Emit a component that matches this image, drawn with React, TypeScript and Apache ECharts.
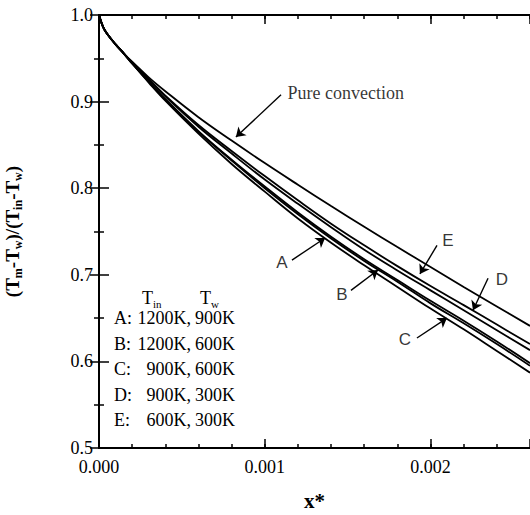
import React, { useEffect, useRef } from "react";
import * as echarts from "echarts";

// ---- data ----
const xValues = [0, 0.000025, 0.00005, 0.0001, 0.00015, 0.0002, 0.0003, 0.0004, 0.0006, 0.0008, 0.001, 0.0012, 0.0014, 0.0016, 0.0018, 0.002, 0.0022, 0.0024, 0.0026];
const pureConvection = [1.0, 0.986, 0.978, 0.966, 0.9555, 0.946, 0.928, 0.912, 0.882, 0.855, 0.829, 0.804, 0.7795, 0.7555, 0.732, 0.709, 0.686, 0.6635, 0.641];
const caseE = [1.0, 0.986, 0.978, 0.966, 0.9555, 0.945, 0.926, 0.907, 0.873, 0.843, 0.814, 0.786, 0.759, 0.734, 0.71, 0.687, 0.665, 0.6425, 0.62];
const caseD = [1.0, 0.986, 0.978, 0.966, 0.9555, 0.945, 0.925, 0.906, 0.871, 0.84, 0.81, 0.782, 0.755, 0.729, 0.705, 0.682, 0.659, 0.636, 0.613];
const caseA = [1.0, 0.986, 0.978, 0.966, 0.9555, 0.944, 0.923, 0.903, 0.866, 0.833, 0.802, 0.772, 0.744, 0.718, 0.694, 0.67, 0.647, 0.623, 0.598];
const caseB = [1.0, 0.986, 0.978, 0.966, 0.9555, 0.944, 0.923, 0.902, 0.865, 0.832, 0.8, 0.77, 0.742, 0.716, 0.692, 0.667, 0.644, 0.62, 0.595];
const caseC = [1.0, 0.986, 0.978, 0.966, 0.9555, 0.944, 0.922, 0.901, 0.863, 0.828, 0.796, 0.765, 0.737, 0.711, 0.686, 0.661, 0.637, 0.612, 0.587];

const xTickLabels = ["0.000", "0.001", "0.002"];
const yTickLabels = ["0.5", "0.6", "0.7", "0.8", "0.9", "1.0"];

const annotationNames = ["Pure convection", "E", "D", "C", "B", "A"];
const annotationTextAt = [
  [0.001134, 0.91],
  [0.002105, 0.74],
  [0.002431, 0.694],
  [0.001846, 0.625],
  [0.001466, 0.677],
  [0.001104, 0.714],
];
const arrowStarts = [
  [0.001098, 0.908],
  [0.002039, 0.734],
  [0.002347, 0.696],
  [0.001918, 0.627],
  [0.00152, 0.682],
  [0.001164, 0.717],
];
const arrowTips = [
  [0.000826, 0.859],
  [0.001936, 0.701],
  [0.002256, 0.659],
  [0.002099, 0.65],
  [0.001683, 0.7055],
  [0.001364, 0.7425],
];

const legendRows = [
  ["A:", "1200K,", "900K"],
  ["B:", "1200K,", "600K"],
  ["C:", "900K,", "600K"],
  ["D:", "900K,", "300K"],
  ["E:", "600K,", "300K"],
];

const SERIF = "Liberation Serif";
const SANS = "Liberation Sans";

function pair(arr: number[]) {
  return xValues.map((x, i) => [x, arr[i]]);
}

export default function App() {
  const ref = useRef<HTMLDivElement>(null);
  useEffect(() => {
    if (!ref.current) return;
    const chart = echarts.init(ref.current, undefined, { renderer: "svg" });
    const lineSeries = (name: string, arr: number[]) => ({
      name,
      type: "line",
      data: pair(arr),
      showSymbol: false,
      smooth: 0.4,
      xAxisIndex: 0,
      yAxisIndex: 0,
      lineStyle: { color: "#000", width: 1.8 },
      silent: true,
    });
    const xLabel = (v: number) => {
      const k = Math.round(v / 0.001);
      if (Math.abs(v - k * 0.001) < 1e-9 && k < xTickLabels.length) return xTickLabels[k];
      return "";
    };
    const yLabel = (v: number) => {
      const k = Math.round((v - 0.5) / 0.1);
      if (Math.abs(v - (0.5 + k * 0.1)) < 1e-9) return yTickLabels[k] ?? "";
      return "";
    };
    const axisLineStyle = { color: "#000", width: 2 };
    const tickStyle = { color: "#000", width: 1.5 };
    const baseX = { type: "value", min: 0, max: 0.0026, splitLine: { show: false } };
    const rows: any[] = [];
    legendRows.forEach((r, i) => {
      const y = 318 + i * 25.6;
      const font = { fontFamily: SERIF, fontSize: 18, fill: "#000" };
      rows.push({ type: "text", x: 114, y, style: { text: r[0], ...font, align: "left", verticalAlign: "middle" } });
      rows.push({ type: "text", x: 191, y, style: { text: r[1], ...font, align: "right", verticalAlign: "middle" } });
      rows.push({ type: "text", x: 195, y, style: { text: r[2], ...font, align: "left", verticalAlign: "middle" } });
    });
    const headerRich = { s: { fontFamily: SERIF, fontSize: 11, lineHeight: 10, verticalAlign: "bottom", fill: "#000" } };
    rows.push({
      type: "text", x: 142, y: 298,
      style: { text: "T{s|in}", fontFamily: SERIF, fontSize: 18, lineHeight: 22, fill: "#000", verticalAlign: "middle", rich: headerRich },
    });
    rows.push({
      type: "text", x: 200, y: 298,
      style: { text: "T{s|w}", fontFamily: SERIF, fontSize: 18, lineHeight: 22, fill: "#000", verticalAlign: "middle", rich: headerRich },
    });

    chart.setOption({
      animation: false,
      backgroundColor: "#fff",
      grid: { left: 99, top: 15, right: 0, bottom: 67, containLabel: false, outerBoundsMode: "none" },
      xAxis: [
        {
          ...baseX, position: "bottom", interval: 0.0002,
          axisLine: { lineStyle: axisLineStyle },
          axisTick: { inside: true, length: 4, lineStyle: tickStyle },
          axisLabel: { formatter: xLabel, margin: 10, color: "#000", fontFamily: SERIF, fontSize: 18, showMaxLabel: false },
          name: "x*", nameLocation: "middle", nameGap: 42,
          nameTextStyle: { fontFamily: SERIF, fontWeight: "bold", fontSize: 21, color: "#000" },
        },
        {
          ...baseX, position: "bottom", offset: 0, interval: 0.001,
          axisLine: { show: false },
          axisTick: { inside: true, length: 9, lineStyle: tickStyle },
          axisLabel: { show: false },
        },
        {
          ...baseX, position: "top", offset: 0, interval: 0.0002,
          axisLine: { lineStyle: axisLineStyle },
          axisTick: { inside: true, length: 4, lineStyle: tickStyle },
          axisLabel: { show: false },
        },
        {
          ...baseX, position: "top", offset: 0, interval: 0.001,
          axisLine: { show: false },
          axisTick: { inside: true, length: 9, lineStyle: tickStyle },
          axisLabel: { show: false },
        },
      ],
      yAxis: [
        {
          type: "value", position: "left", min: 0.5, max: 1.0, interval: 0.1,
          splitLine: { show: false },
          axisLine: { lineStyle: axisLineStyle },
          axisTick: { inside: true, length: 10, lineStyle: tickStyle },
          minorTick: { show: true, splitNumber: 2, length: 5, lineStyle: tickStyle },
          axisLabel: { formatter: yLabel, margin: 6, color: "#000", fontFamily: SERIF, fontSize: 18 },
          name: "(T{s|m}-T{s|w})/(T{s|in}-T{s|w})",
          nameLocation: "middle", nameRotate: 90, nameGap: 75,
          nameTextStyle: {
            fontFamily: SERIF, fontWeight: "bold", fontSize: 19, lineHeight: 24, color: "#000",
            rich: { s: { fontFamily: SERIF, fontWeight: "bold", fontSize: 12, lineHeight: 12, verticalAlign: "bottom", color: "#000" } },
          },
        },
        {
          type: "value", position: "right", min: 0.5, max: 1.0, interval: 0.1,
          splitLine: { show: false },
          axisLine: { lineStyle: axisLineStyle },
          axisTick: { inside: true, length: 9, lineStyle: tickStyle },
          minorTick: { show: true, splitNumber: 2, length: 5, lineStyle: tickStyle },
          axisLabel: { show: false },
        },
      ],
      series: [
        lineSeries("Pure convection", pureConvection),
        lineSeries("E", caseE),
        lineSeries("D", caseD),
        lineSeries("A", caseA),
        lineSeries("B", caseB),
        lineSeries("C", caseC),
        {
          name: "annotations",
          type: "scatter",
          xAxisIndex: 0,
          yAxisIndex: 0,
          symbolSize: 1,
          itemStyle: { color: "rgba(0,0,0,0)" },
          silent: true,
          data: annotationNames.map((n, i) => ({
            value: [annotationTextAt[i][0], annotationTextAt[i][1]],
            label: i === 0
              ? { show: true, formatter: n, position: "right", distance: 0, fontFamily: SERIF, fontSize: 18, color: "#000" }
              : { show: true, formatter: n, position: "inside", fontFamily: SANS, fontSize: 17, color: "#000" },
          })),
          markLine: {
            silent: true,
            symbol: ["none", "arrow"],
            symbolSize: 9,
            label: { show: false },
            lineStyle: { color: "#000", width: 1.4, type: "solid" },
            data: arrowStarts.map((s, i) => [{ coord: s }, { coord: arrowTips[i] }]),
          },
        },
      ],
      graphic: rows,
    });
    return () => chart.dispose();
  }, []);
  return <div ref={ref} style={{ position: "absolute", left: 0, top: 0, width: 530, height: 515 }} />;
}
